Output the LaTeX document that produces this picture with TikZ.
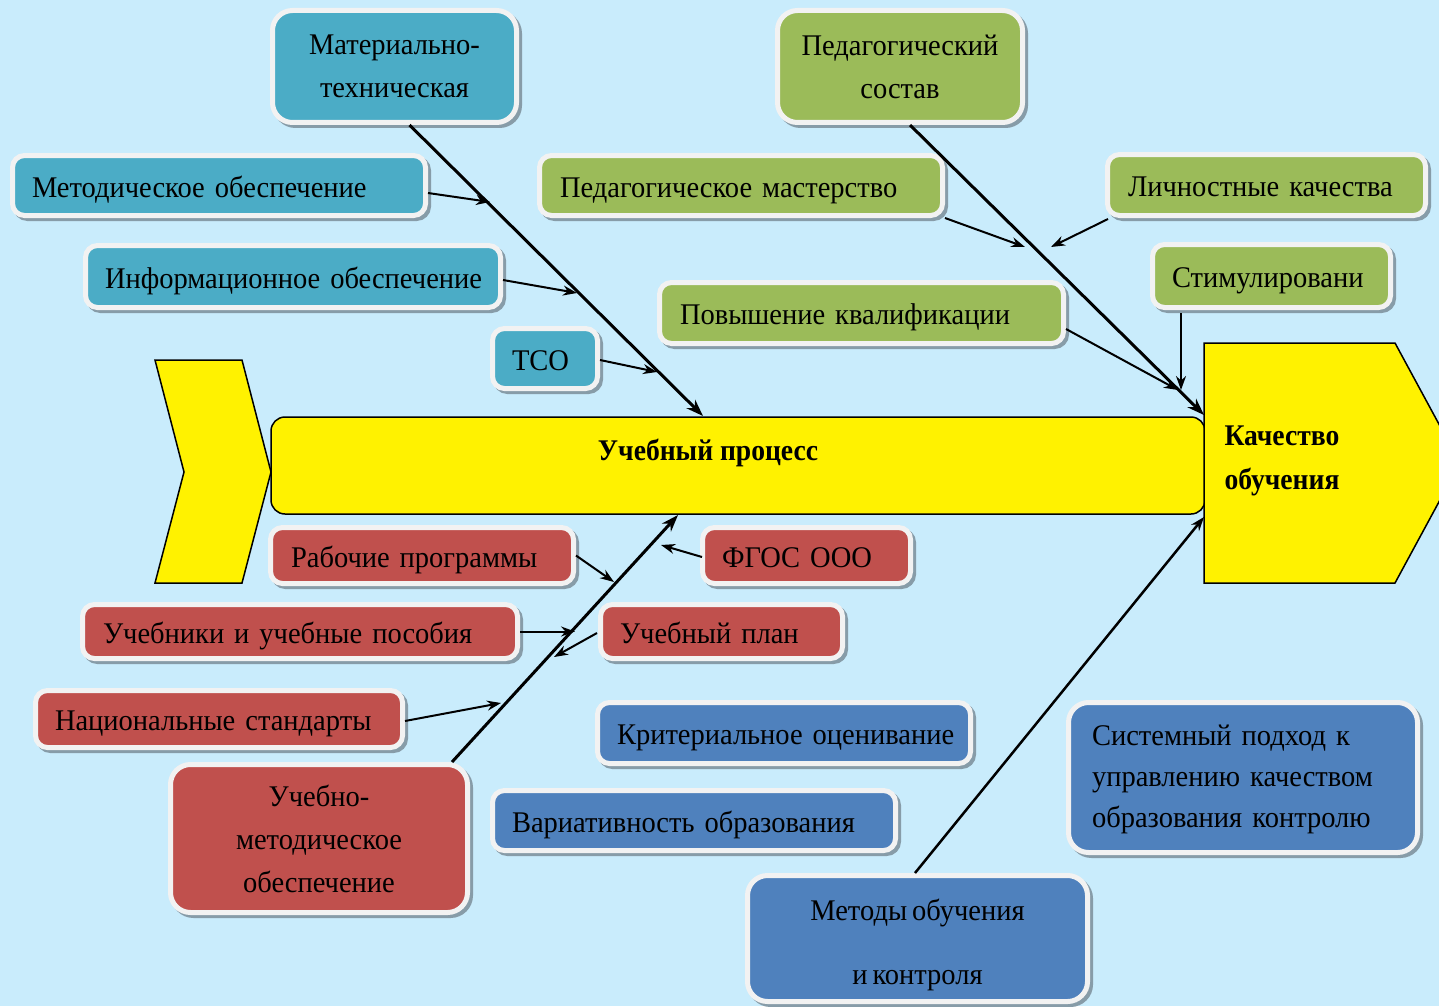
\documentclass[tikz,border=0pt]{standalone}
\usepackage{fontspec}
\setmainfont[FakeStretch=0.95, WordSpace=0.7, BoldFeatures={FakeStretch=0.92, WordSpace=1}]{Liberation Serif}
\usetikzlibrary{arrows.meta,calc}
\definecolor{bgc}{RGB}{201,236,252}
\definecolor{tealc}{RGB}{75,172,198}
\definecolor{greenc}{RGB}{155,187,89}
\definecolor{redc}{RGB}{192,80,77}
\definecolor{bluec}{RGB}{79,129,189}
\definecolor{bordc}{RGB}{242,242,242}
\definecolor{shadowc}{RGB}{135,156,168}
\newcommand\fsz{\fontsize{30}{43}\selectfont}
\newcommand\bfsz{\fontsize{30}{44}\selectfont\bfseries}
\tikzset{
  box/.style={draw=bordc, line width=5pt, rounded corners=12pt, inner sep=0pt, font=\fsz,
    preaction={draw=shadowc, fill=shadowc, line width=5pt, transform canvas={xshift=3pt, yshift=-3pt}}},
  tbox/.style={box, fill=tealc},
  gbox/.style={box, fill=greenc},
  rbox/.style={box, fill=redc},
  bbox/.style={box, fill=bluec},
  lbox/.style={align=left, text height=29pt, text depth=6pt},
  ybody/.style={draw=black, fill=yellow, line width=1.5pt},
  spine/.style={line width=3pt, -{Stealth[length=17pt,width=12pt]}},
  branch/.style={line width=2pt, -{Stealth[length=14pt,width=10pt]}},
}
\begin{document}
\begin{tikzpicture}[x=1pt,y=-1pt]
\useasboundingbox (0,0) rectangle (1439,1006);
\fill[bgc] (0,0) rectangle (1439,1006);
\begin{scope}
\clip (0,0) rectangle (1439,1006);
% yellow shapes
\draw[ybody] (155,360) -- (242,360) -- (271,472) -- (242,583) -- (155,583) -- (184,472) -- cycle;
\node[ybody, rounded corners=14pt, minimum width=934pt, minimum height=97pt, inner sep=0pt] (main) at (738,465.5) {};
\draw[ybody] (1204,343) -- (1395,343) -- (1460,463) -- (1395,583) -- (1204,583) -- cycle;
\node[font=\bfsz] (mainlbl) at (708,453) {Учебный процесс};
\node[font=\bfsz, anchor=west, align=left] (kach) at (1221,461) {Качество\\обучения};

% teal boxes
\node[tbox, rounded corners=20pt, minimum width=244pt, minimum height=112pt, align=center] (mt) at (394.5,66.5) {Материально-\\техническая};
\node[tbox, lbox, minimum width=413pt, minimum height=60pt, text width=374pt] (me) at (219,185.5) {\mbox{Методическое обеспечение}};
\node[tbox, lbox, minimum width=415pt, minimum height=62pt, text width=376pt] (inf) at (293,276.5) {\mbox{Информационное обеспечение}};
\node[tbox, lbox, minimum width=105pt, minimum height=60pt, text width=66pt] (tso) at (545,358.5) {\mbox{ТСО}};

% green boxes
\node[gbox, rounded corners=20pt, minimum width=245pt, minimum height=112pt, align=center] (ps) at (900,66.5) {Педагогический\\состав};
\node[gbox, lbox, minimum width=403pt, minimum height=60pt, text width=362pt] (pm) at (741,185.5) {\mbox{Педагогическое мастерство}};
\node[gbox, lbox, minimum width=318pt, minimum height=61pt, text width=277pt] (lk) at (1266.5,185) {\mbox{Личностные качества}};
\node[gbox, lbox, minimum width=238pt, minimum height=63pt, text width=199pt] (st) at (1271.5,276) {\mbox{Стимулировани}};
\node[gbox, lbox, minimum width=404pt, minimum height=61pt, text width=363pt] (pk) at (861.5,313) {\mbox{Повышение квалификации}};

% red boxes
\node[rbox, lbox, minimum width=303pt, minimum height=56pt, text width=262pt] (rp) at (422,555.5) {\mbox{Рабочие программы}};
\node[rbox, lbox, minimum width=208pt, minimum height=56pt, text width=169pt] (fg) at (806.5,555.5) {\mbox{ФГОС ООО}};
\node[rbox, lbox, minimum width=435pt, minimum height=54pt, text width=394pt] (ub) at (300,631.5) {\mbox{Учебники и учебные пособия}};
\node[rbox, lbox, minimum width=242pt, minimum height=54pt, text width=203pt] (up) at (721.5,631.5) {\mbox{Учебный план}};
\node[rbox, lbox, minimum width=367pt, minimum height=57pt, text width=328pt] (ns) at (219,719) {\mbox{Национальные стандарты}};
\node[rbox, rounded corners=20pt, minimum width=297pt, minimum height=148pt, align=center] (um) at (319,838.5) {Учебно-\\методическое\\обеспечение};

% blue boxes
\node[bbox, lbox, minimum width=373pt, minimum height=61pt, text width=334pt] (ko) at (784,733) {\mbox{Критериальное оценивание}};
\node[bbox, lbox, minimum width=403pt, minimum height=60pt, text width=364pt] (vo) at (694,820.5) {\mbox{Вариативность образования}};
\node[bbox, align=left, rounded corners=20pt, minimum width=349pt, minimum height=150pt, text width=302pt, font=\fontsize{30}{41}\selectfont] (sp) at (1243,777.5) {\rule{0pt}{0pt}\\[-17pt]Системный подход к\\управлению качеством\\образования контролю};
\node[bbox, rounded corners=20pt, minimum width=340pt, minimum height=126pt, align=center] (mo) at (917.5,938.5) {\rule{0pt}{0pt}\\[-8pt]Методы обучения\\[21pt]и контроля};

% spine end points and free ends
\coordinate (s1end) at (703,416);
\coordinate (s2end) at (1204,415);
\coordinate (s3end) at (678,515);
\coordinate (s4end) at (1204,517);
\coordinate (tme) at (490,202);
\coordinate (tinf) at (577,293);
\coordinate (ttso) at (657,372);
\coordinate (tpm) at (1025,247);
\coordinate (tlk) at (1051,247);
\coordinate (tpk) at (1178,390);
\coordinate (tst) at (1181,390);
\coordinate (trp) at (614,582);
\coordinate (tfg) at (661,545);
\coordinate (tub) at (575,631.5);
\coordinate (tup) at (554,657);
\coordinate (tns) at (501,703);

% spines
\draw[spine] ($(mt.south)+(15,0)$) -- (s1end);
\draw[spine] ($(ps.south)+(10,0)$) -- (s2end);
\draw[spine] ($(um.north)+(133,0)$) -- (s3end);
\draw[line width=2.5pt, -{Stealth[length=14pt,width=10pt]}] ($(mo.north)+(-2.5,0)$) -- (s4end);

% branches
\draw[branch] ($(me.east)+(0,7.5)$) -- (tme);
\draw[branch] ($(inf.east)+(0,3.5)$) -- (tinf);
\draw[branch] ($(tso.east)+(0,1.5)$) -- (ttso);
\draw[branch] (pm.south east) -- (tpm);
\draw[branch] ($(lk.south west)+(3,1)$) -- (tlk);
\draw[branch] ($(pk.east)+(0,16)$) -- (tpk);
\draw[branch] ($(st.south)+(-90.5,3)$) -- (tst);
\draw[branch] (rp.east) -- (trp);
\draw[branch] ($(fg.west)+(2,1.5)$) -- (tfg);
\draw[branch] (ub.east) -- (tub);
\draw[branch] ($(up.west)+(-1,1.5)$) -- (tup);
\draw[branch] ($(ns.east)+(0,2)$) -- (tns);
\end{scope}
\end{tikzpicture}
\end{document}
